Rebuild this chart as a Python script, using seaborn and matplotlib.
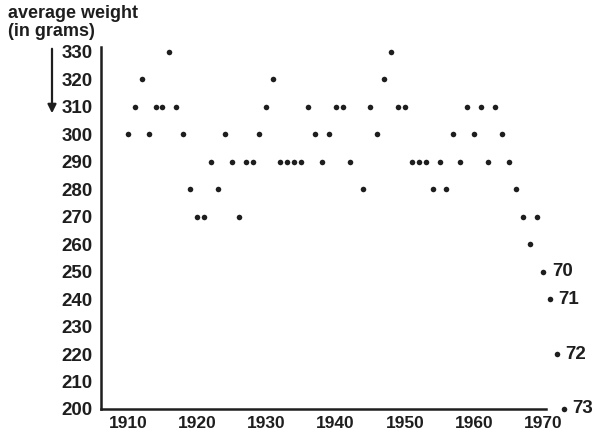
import matplotlib
matplotlib.use("Agg")
import matplotlib.pyplot as plt
import seaborn as sns
import pandas as pd

# average weight per year
years = [1910, 1911, 1912, 1913, 1914, 1915, 1916, 1917, 1918, 1919,
         1920, 1921, 1922, 1923, 1924, 1925, 1926, 1927, 1928, 1929,
         1930, 1931, 1932, 1933, 1934, 1935, 1936, 1937, 1938, 1939,
         1940, 1941, 1942, 1944, 1945, 1946, 1947, 1948, 1949,
         1950, 1951, 1952, 1953, 1954, 1955, 1956, 1957, 1958, 1959,
         1960, 1961, 1962, 1963, 1964, 1965, 1966, 1967, 1968, 1969,
         1970, 1971, 1972, 1973]
weights = [300, 310, 320, 300, 310, 310, 330, 310, 300, 280,
           270, 270, 290, 280, 300, 290, 270, 290, 290, 300,
           310, 320, 290, 290, 290, 290, 310, 300, 290, 300,
           310, 310, 290, 280, 310, 300, 320, 330, 310,
           310, 290, 290, 290, 280, 290, 280, 300, 290, 310,
           300, 310, 290, 310, 300, 290, 280, 270, 260, 270,
           250, 240, 220, 200]
labelled_years = [1970, 1971, 1972, 1973]
year_labels = ["70", "71", "72", "73"]
x_ticks = [1910, 1920, 1930, 1940, 1950, 1960, 1970]
y_ticks = list(range(200, 331, 10))

df = pd.DataFrame({"year": years, "weight": weights})

sns.set_style("white")
plt.rcParams["font.family"] = ["Liberation Sans", "DejaVu Sans"]
plt.rcParams["font.weight"] = "bold"

ink = "#1e1e1e"
fig = plt.figure(figsize=(6, 4.48), dpi=100)
ax = fig.add_axes([0.168, 0.0565, 0.784, 0.8397])

sns.scatterplot(data=df, x="year", y="weight", ax=ax, s=16, color=ink,
                edgecolor=ink, linewidth=0, clip_on=False, legend=False)

for yr, lab in zip(labelled_years, year_labels):
    w = df.loc[df["year"] == yr, "weight"].iloc[0]
    ax.annotate(lab, (yr, w), xytext=(6, 0), textcoords="offset points",
                va="center", ha="left", fontsize=13.5, fontweight="bold", color=ink)

ax.set_xlim(1906.1, 1974)
ax.set_ylim(195, 332)
ax.set_xticks(x_ticks)
ax.set_yticks(y_ticks)
ax.set_xlabel("")
ax.set_ylabel("")

for side in ["top", "right"]:
    ax.spines[side].set_visible(False)
ax.spines["bottom"].set_position(("data", 200))
ax.spines["bottom"].set_bounds(1906.1, 1970.3)
ax.spines["left"].set_bounds(200, 332)
for side in ["bottom", "left"]:
    ax.spines[side].set_linewidth(1.8)
    ax.spines[side].set_color(ink)

ax.tick_params(axis="y", direction="out", length=5, width=1.3, color=ink,
               labelsize=13.5, labelcolor=ink, pad=1)
ax.tick_params(axis="x", direction="in", length=3, width=1.2, color=ink,
               labelsize=12.5, labelcolor=ink, pad=5)
for lbl in ax.get_xticklabels() + ax.get_yticklabels():
    lbl.set_fontweight("bold")

fig.text(0.013, 0.988, "average weight\n(in grams)", ha="left", va="top",
         fontsize=13, fontweight="bold", color=ink, linespacing=1.05)
fig.add_artist(matplotlib.patches.FancyArrowPatch(
    (52 / 600, 1 - 46 / 448), (52 / 600, 1 - 116 / 448),
    transform=fig.transFigure, arrowstyle="-|>,head_length=5,head_width=2.5",
    color=ink, linewidth=1.6, mutation_scale=1))

plt.savefig("out.png", dpi=100)
